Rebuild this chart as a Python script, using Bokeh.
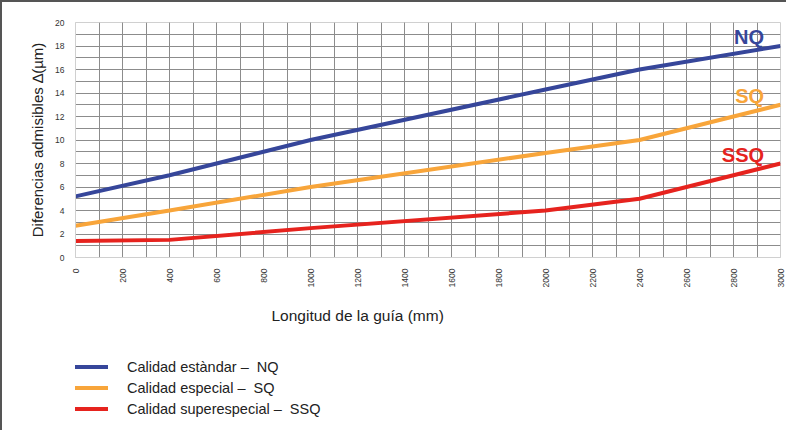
import numpy as np
from bokeh.plotting import figure
from bokeh.layouts import column
from bokeh.models import Legend, LegendItem, Title, ColumnDataSource, FixedTicker, Range1d
from bokeh.core.properties import value
from bokeh.embed import file_html
from bokeh.resources import INLINE

# ---- data ----
lengths = [0, 400, 1000, 2000, 2400, 3000]
nq = [5.2, 7.0, 10.0, 14.3, 16.0, 18.0]
sq = [2.7, 4.0, 6.0, 8.9, 10.0, 13.0]
ssq = [1.4, 1.5, 2.5, 4.0, 5.0, 8.0]
series_names = ["NQ", "SQ", "SSQ"]
legend_labels = ["Calidad estàndar –  NQ", "Calidad especial –  SQ", "Calidad superespecial –  SSQ"]
x_ticks = list(range(0, 3001, 200))
y_ticks = list(range(0, 21, 2))

colors = ["#36469a", "#f8a53a", "#e6231e"]
font = "Liberation Sans"

src = ColumnDataSource(dict(x=lengths, nq=nq, sq=sq, ssq=ssq))

p = figure(width=784, height=340, output_backend="svg", toolbar_location=None,
           x_range=Range1d(0, 3000), y_range=Range1d(0, 20),
           min_border_left=73, min_border_right=6, min_border_top=20, min_border_bottom=85)
p.outline_line_color = "#d0d0d0"
p.background_fill_color = "white"

for ax in (p.xaxis[0], p.yaxis[0]):
    ax.axis_line_color = "#d0d0d0"
    ax.major_tick_line_color = None
    ax.minor_tick_line_color = None
    ax.major_label_text_font = font
    ax.major_label_text_font_size = "8.5px"
    ax.major_label_text_color = "#333333"
    ax.major_label_standoff = 5

p.xaxis.ticker = FixedTicker(ticks=x_ticks, minor_ticks=list(range(0, 3001, 100)))
p.yaxis.ticker = FixedTicker(ticks=y_ticks, minor_ticks=list(range(0, 21, 1)))
p.xaxis.major_label_orientation = np.pi / 2

p.yaxis.axis_label = "Diferencias admisibles ∆(µm)"
p.yaxis.axis_label_text_font = font
p.yaxis.axis_label_text_font_style = "normal"
p.yaxis.axis_label_text_font_size = "15px"
p.yaxis.axis_label_text_color = "#222222"
p.yaxis.axis_label_standoff = 6

for g in (p.xgrid[0], p.ygrid[0]):
    g.grid_line_color = "#8c8c8c"
    g.grid_line_width = 1
    g.minor_grid_line_color = "#8c8c8c"
    g.minor_grid_line_width = 1

for col, c in zip(["nq", "sq", "ssq"], colors):
    p.line("x", col, source=src, line_color=c, line_width=4)

# end labels
end_y = [nq[-1], sq[-1], ssq[-1]]
lab_src = ColumnDataSource(dict(x=[2930] * 3, y=[v + 0.75 for v in end_y], t=series_names, c=colors))
p.text("x", "y", text="t", source=lab_src, text_color="c", text_align="right",
       text_baseline="middle", text_font=value(font), text_font_style="bold",
       text_font_size="20px")

title = Title(text="Longitud de la guía (mm)", align="left", offset=196, standoff=28,
              text_font=font, text_font_size="15.5px", text_font_style="normal",
              text_color="#222222")
p.add_layout(title, "below")

# ---- legend figure ----
p2 = figure(width=784, height=88, output_backend="svg", toolbar_location=None,
            x_range=Range1d(0, 3000), y_range=Range1d(100, 110),
            x_axis_type=None, y_axis_type=None,
            min_border_left=0, min_border_right=0, min_border_top=0, min_border_bottom=0)
p2.outline_line_color = None
p2.xgrid.visible = False
p2.ygrid.visible = False
leg_renderers = []
for col, c in zip(["nq", "sq", "ssq"], colors):
    leg_renderers.append(p2.line("x", col, source=src, line_color=c, line_width=4))

legend = Legend(items=[LegendItem(label=l, renderers=[r]) for l, r in zip(legend_labels, leg_renderers)],
                location=(-40, 11), orientation="vertical",
                glyph_width=73, glyph_height=21, label_height=21, label_standoff=19,
                spacing=0, padding=0, margin=0,
                label_text_font=font, label_text_font_size="14.5px", label_text_color="#222222",
                border_line_color=None, background_fill_alpha=0)
p2.add_layout(legend, "center")

layout = column(p, p2, spacing=0)
layout.styles = {"border-top": "2px solid #555", "border-left": "2px solid #555"}

open("out.html", "w").write(file_html(layout, INLINE))
